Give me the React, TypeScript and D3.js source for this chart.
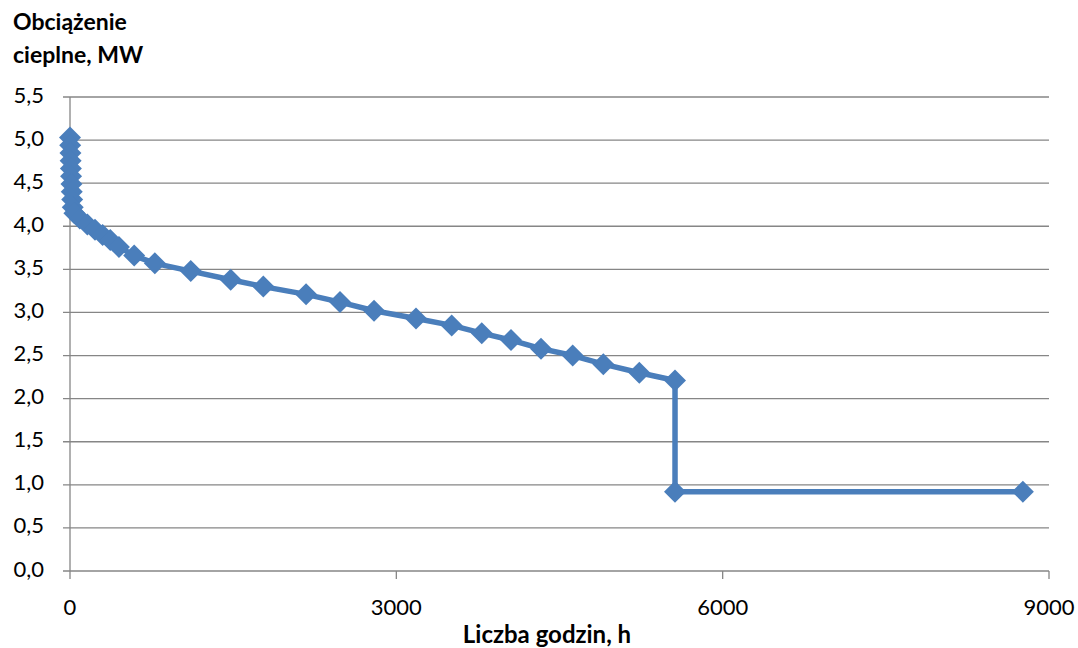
import React from "react";
import * as d3 from "d3";

// uporządkowany wykres obciążenia cieplnego
const hours = [
  0, 2, 4, 6, 8, 10, 13, 16, 20, 25, 40, 90, 160, 230, 300, 370, 450, 590,
  780, 1110, 1477, 1777, 2170, 2482, 2795, 3181, 3509, 3785, 4054, 4330,
  4621, 4903, 5234, 5562, 5562, 8760,
];
const load = [
  5.03, 4.94, 4.85, 4.76, 4.67, 4.58, 4.49, 4.4, 4.31, 4.22, 4.15, 4.09,
  4.02, 3.96, 3.9, 3.84, 3.76, 3.66, 3.57, 3.48, 3.38, 3.3, 3.21, 3.12,
  3.02, 2.93, 2.85, 2.76, 2.68, 2.58, 2.5, 2.4, 2.3, 2.21, 0.92, 0.92,
];
const xTicks = [0, 3000, 6000, 9000];
const yTicks = [0, 0.5, 1, 1.5, 2, 2.5, 3, 3.5, 4, 4.5, 5, 5.5];

const W = 1078;
const H = 648;
const font = "Lato, 'Open Sans', sans-serif";
const blue = "#4a7ebb";
const grid = "#868686";

const App: React.FC = () => {
  const x = d3.scaleLinear().domain([0, 9000]).range([70, 1049]);
  const y = d3.scaleLinear().domain([0, 5.5]).range([571, 97]);

  const pts = hours.map((h, i) => [h, load[i]] as [number, number]);
  const line = d3
    .line<[number, number]>()
    .x((d) => x(d[0]))
    .y((d) => y(d[1]));

  const r = 11;
  const diamond = (cx: number, cy: number) =>
    `M${cx},${cy - r}L${cx + r},${cy}L${cx},${cy + r}L${cx - r},${cy}Z`;

  const fmt = (v: number) => v.toFixed(1).replace(".", ",");

  return (
    <svg
      width={W}
      height={H}
      style={{ position: "absolute", left: 0, top: 0, background: "#fff" }}
      fontFamily={font}
    >
      {/* siatka i oś Y */}
      {yTicks.map((t) => (
        <g key={t}>
          <line x1={63} x2={1049} y1={y(t)} y2={y(t)} stroke={grid} strokeWidth={1.3} />
          <text
            x={44}
            y={y(t)}
            textAnchor="end"
            dominantBaseline="middle"
            fontSize={22}
            fill="#000"
          >
            {fmt(t)}
          </text>
        </g>
      ))}
      <line x1={70} x2={70} y1={97} y2={571} stroke={grid} strokeWidth={1.3} />

      {/* oś X */}
      {xTicks.map((t) => (
        <g key={t}>
          <line x1={x(t)} x2={x(t)} y1={571} y2={579} stroke={grid} strokeWidth={1.3} />
          <text x={x(t)} y={615} textAnchor="middle" fontSize={22} fill="#000">
            {t}
          </text>
        </g>
      ))}

      {/* seria */}
      <path d={line(pts) ?? ""} fill="none" stroke={blue} strokeWidth={5.5} strokeLinejoin="round" />
      {pts.map((d, i) => (
        <path key={i} d={diamond(x(d[0]), y(d[1]))} fill={blue} />
      ))}

      {/* tytuły osi */}
      <text x={13} y={30} fontSize={23} fontWeight="bold" fill="#000">
        Obciążenie
      </text>
      <text x={13} y={63} fontSize={23} fontWeight="bold" fill="#000">
        cieplne, MW
      </text>
      <text x={547} y={643} textAnchor="middle" fontSize={24} fontWeight="bold" fill="#000">
        Liczba godzin, h
      </text>
    </svg>
  );
};

export default App;
